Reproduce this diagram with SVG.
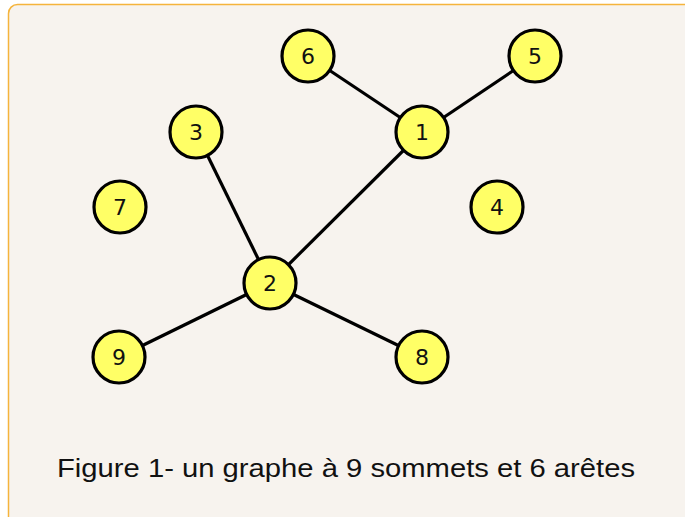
<svg xmlns="http://www.w3.org/2000/svg" width="685" height="517" viewBox="0 0 685 517">
<style>
.node circle{fill:#ffff66;stroke:#000;stroke-width:3.2}
.node text{font-family:"DejaVu Sans","Liberation Sans",sans-serif;font-size:22px;fill:#111;text-anchor:middle;dominant-baseline:central}
.edges line{stroke:#000;stroke-width:3.2}
.caption{font-family:"Liberation Sans","DejaVu Sans",sans-serif;font-size:25px;fill:#111}
</style>
<rect x="0" y="0" width="685" height="517" fill="#ffffff"/>
<rect x="8.5" y="4.5" width="700" height="540" rx="9" fill="#f7f3ee" stroke="#f5b43c" stroke-width="1.5"/>
<g id="edges" class="edges">
<line x1="308" y1="56" x2="422" y2="132"/>
<line x1="535" y1="56" x2="422" y2="132"/>
<line x1="422" y1="132" x2="270" y2="283"/>
<line x1="196" y1="132" x2="270" y2="283"/>
<line x1="270" y1="283" x2="119" y2="357"/>
<line x1="270" y1="283" x2="422" y2="357"/>
</g>
<g id="n6" class="node"><circle cx="308" cy="56" r="26"/><text x="308" y="56">6</text></g>
<g id="n5" class="node"><circle cx="535" cy="56" r="26"/><text x="535" y="56">5</text></g>
<g id="n1" class="node"><circle cx="422" cy="132" r="26"/><text x="422" y="132">1</text></g>
<g id="n3" class="node"><circle cx="196" cy="132" r="26"/><text x="196" y="132">3</text></g>
<g id="n7" class="node"><circle cx="120" cy="207" r="26"/><text x="120" y="207">7</text></g>
<g id="n4" class="node"><circle cx="497" cy="207" r="26"/><text x="497" y="207">4</text></g>
<g id="n2" class="node"><circle cx="270" cy="283" r="26"/><text x="270" y="283">2</text></g>
<g id="n9" class="node"><circle cx="119" cy="357" r="26"/><text x="119" y="357">9</text></g>
<g id="n8" class="node"><circle cx="422" cy="357" r="26"/><text x="422" y="357">8</text></g>
<text class="caption" x="57" y="477" textLength="578" lengthAdjust="spacingAndGlyphs">Figure 1- un graphe à 9 sommets et 6 arêtes</text>
</svg>
